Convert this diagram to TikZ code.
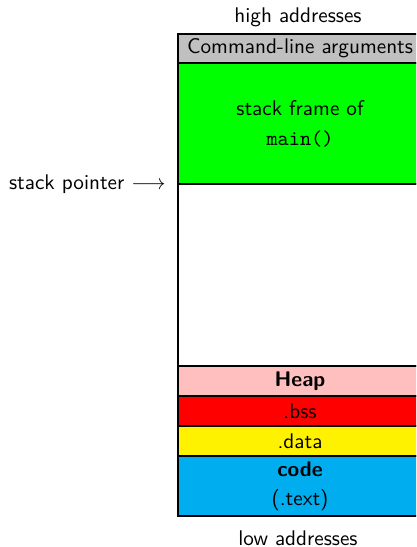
\documentclass[tikz,border=0pt]{standalone}
\definecolor{argsgray}{RGB}{192,192,192}
\definecolor{framegreen}{RGB}{0,255,0}
\definecolor{heappink}{RGB}{255,191,191}
\definecolor{bssred}{RGB}{255,0,0}
\definecolor{datayellow}{RGB}{255,242,0}
\definecolor{codeblue}{RGB}{0,174,239}
\tikzset{
  seg/.style={draw, line width=0.6pt, minimum width=115.1pt, inner sep=0pt, outer sep=0pt,
    anchor=north, align=center, font=\sffamily},
  label/.style={font=\sffamily, inner sep=0pt}
}
\begin{document}
\begin{tikzpicture}[x=0.4717pt, y=-0.4717pt]
\useasboundingbox (0,0) rectangle (416,547);
\clip (0,0) rectangle (416,547);
\node[seg, fill=argsgray, minimum height=13.68pt] (args) at (300,34) {Command-line arguments};
\node[seg, fill=framegreen, minimum height=57.08pt] (frame) at (args.south) {stack frame of\\[2.2pt]\texttt{main()}};
\node[seg, fill=white, minimum height=85.85pt] (free) at (frame.south) {};
\node[seg, fill=heappink, minimum height=14.15pt] (heap) at (free.south) {\textbf{Heap}};
\node[seg, fill=bssred, minimum height=14.15pt] (bss) at (heap.south) {.bss};
\node[seg, fill=datayellow, minimum height=14.15pt] (data) at (bss.south) {.data};
\node[seg, fill=codeblue, minimum height=28.3pt] (code) at (data.south) {\textbf{code}\\[1.7pt](.text)};
\node[label] (high) at (298,17) {high addresses};
\node[label] (low) at (298,538) {low addresses};
\node[label, anchor=east] (sp) at (166,184) {stack pointer $\longrightarrow$};
\end{tikzpicture}
\end{document}
